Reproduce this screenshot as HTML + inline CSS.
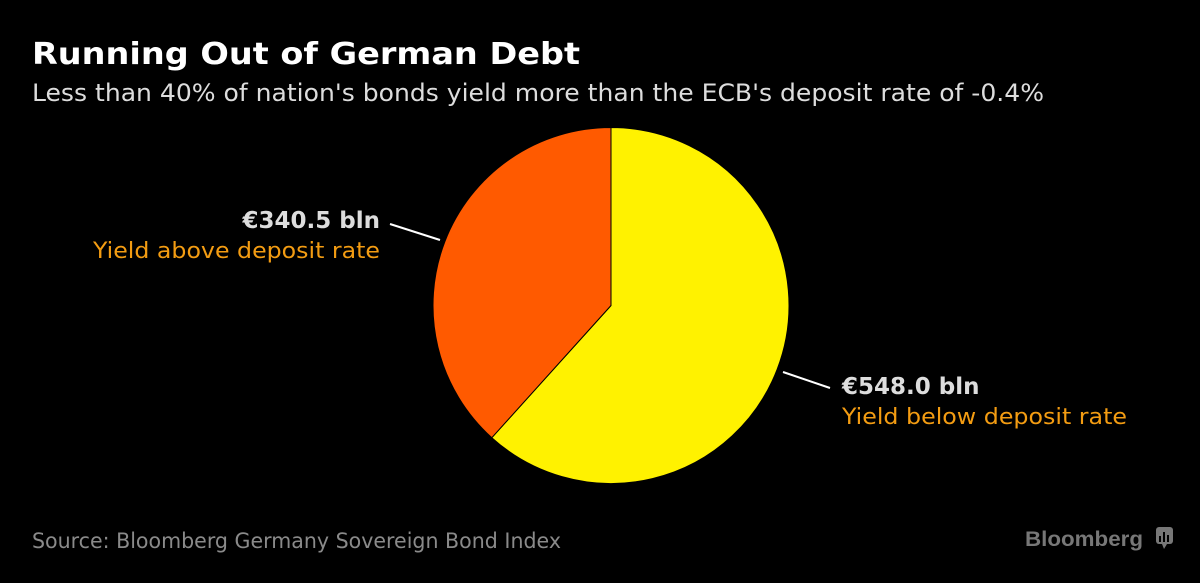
<!DOCTYPE html>
<html><head><meta charset="utf-8"><style>
html,body{margin:0;padding:0;background:#000;}
svg{display:block;font-family:"DejaVu Sans","Liberation Sans",sans-serif;}
</style></head><body>
<svg width="1200" height="583" viewBox="0 0 1200 583">
<rect width="1200" height="583" fill="#000"/>
<text x="32" y="64" font-size="30" font-weight="bold" fill="#fff" textLength="548" lengthAdjust="spacingAndGlyphs">Running Out of German Debt</text>
<text x="32" y="101" font-size="24" fill="#ddd" textLength="1012" lengthAdjust="spacingAndGlyphs">Less than 40% of nation's bonds yield more than the ECB's deposit rate of -0.4%</text>
<g id="pie"></g>
<line x1="390" y1="224" x2="440" y2="240" stroke="#fff" stroke-width="2"/>
<line x1="783" y1="372" x2="830" y2="388" stroke="#fff" stroke-width="2"/>
<text x="380" y="228" text-anchor="end" font-size="23" font-weight="bold" fill="#ddd">€340.5 bln</text>
<text x="380" y="258" text-anchor="end" font-size="22" fill="#f39c12" textLength="287" lengthAdjust="spacingAndGlyphs">Yield above deposit rate</text>
<text x="842" y="394" font-size="23" font-weight="bold" fill="#ddd">€548.0 bln</text>
<text x="842" y="424" font-size="22" fill="#f39c12" textLength="285" lengthAdjust="spacingAndGlyphs">Yield below deposit rate</text>
<text x="32" y="548" font-size="21" fill="#8a8a8a" textLength="529" lengthAdjust="spacingAndGlyphs">Source: Bloomberg Germany Sovereign Bond Index</text>
<text x="1025" y="546" font-size="21" font-weight="bold" fill="#777" font-family="Liberation Sans, sans-serif" textLength="118" lengthAdjust="spacingAndGlyphs">Bloomberg</text>
<g>
<rect x="1156" y="527" width="17" height="17" rx="3" fill="#777"/>
<polygon points="1162,544 1167,544 1164,549" fill="#777"/>
<rect x="1159" y="536" width="2" height="6" fill="#000"/><rect x="1163" y="532" width="2" height="10" fill="#000"/><rect x="1167" y="535" width="2" height="7" fill="#000"/>
</g>
</svg>
<script>
const categories = ["Yield below deposit rate", "Yield above deposit rate"];
const values = [548.0, 340.5];
const colors = ["#fff200", "#ff5a00"];
const cx = 611, cy = 305.5, r = 178;
const total = values.reduce((a, b) => a + b, 0);
const g = document.getElementById('pie');
let start = 0;
values.forEach((v, i) => {
  const a0 = start / total * 2 * Math.PI, a1 = (start + v) / total * 2 * Math.PI;
  start += v;
  const x0 = cx + r * Math.sin(a0), y0 = cy - r * Math.cos(a0);
  const x1 = cx + r * Math.sin(a1), y1 = cy - r * Math.cos(a1);
  const large = (a1 - a0) > Math.PI ? 1 : 0;
  const p = document.createElementNS('http://www.w3.org/2000/svg', 'path');
  p.setAttribute('d', `M${cx},${cy} L${x0},${y0} A${r},${r} 0 ${large} 1 ${x1},${y1} Z`);
  p.setAttribute('fill', colors[i]);
  p.setAttribute('stroke', '#000');
  p.setAttribute('stroke-width', '1');
  
  
  g.appendChild(p);
});
</script>
</body></html>
